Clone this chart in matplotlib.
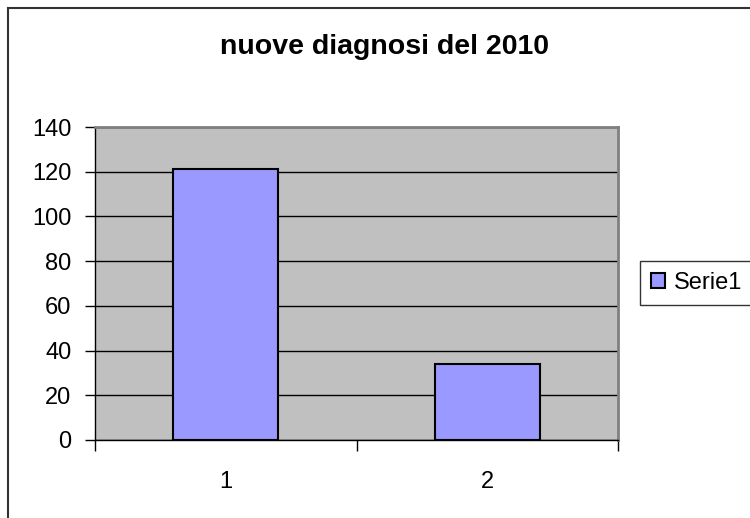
import numpy as np
import matplotlib.pyplot as plt
from matplotlib.lines import Line2D

plt.rcParams['font.family'] = ['Liberation Sans', 'DejaVu Sans']

# data
categories = ['1', '2']
values = [121, 34]
series_name = 'Serie1'
title = 'nuove diagnosi del 2010'

W, H = 750, 518
fig = plt.figure(figsize=(W / 100, H / 100), dpi=100)

# plot area in pixels: left 95, right 618, top 127, bottom 440
ax = fig.add_axes([95 / W, 1 - 440 / H, (618 - 95) / W, (440 - 127) / H])
ax.set_facecolor('#C0C0C0')

x = np.arange(1, len(values) + 1)
bars = ax.bar(x, values, width=0.4, color='#9999FF', edgecolor='black',
              linewidth=1.5, zorder=3, label=series_name)

ax.set_xlim(0.5, len(values) + 0.5)
ax.set_ylim(0, 140)
ax.set_yticks(np.arange(0, 141, 20))
ax.yaxis.grid(True, color='black', linewidth=1, zorder=1)
ax.set_axisbelow(True)

ax.set_xticks(x)
ax.set_xticklabels(categories)
ax.set_xticks(np.arange(0.5, len(values) + 1, 1), minor=True)
ax.tick_params(axis='x', which='major', length=0, pad=22, labelsize=17)
ax.tick_params(axis='x', which='minor', length=8, width=1, direction='out', color='black')
ax.tick_params(axis='y', length=7, width=1, direction='out', pad=10, labelsize=17)

for side in ['top', 'right']:
    ax.spines[side].set_color('#808080')
    ax.spines[side].set_linewidth(2)
for side in ['left', 'bottom']:
    ax.spines[side].set_color('black')
    ax.spines[side].set_linewidth(1)

fig.text(385 / W, 1 - 47 / H, title, ha='center', va='center',
         fontsize=20.5, fontweight='bold')

# outer chart border (right and bottom run off the image)
fig.add_artist(Line2D([8 / W, 8 / W], [0, 1 - 8 / H], color='#333333', linewidth=1.5,
                      transform=fig.transFigure))
fig.add_artist(Line2D([8 / W, 1], [1 - 8 / H, 1 - 8 / H], color='#333333', linewidth=1.5,
                      transform=fig.transFigure))

leg = fig.legend(handles=[bars], loc='center left', bbox_to_anchor=(640 / W, 1 - 283 / H),
                 fontsize=17, frameon=True, fancybox=False, edgecolor='black',
                 handlelength=0.6, handleheight=0.6, handletextpad=0.4,
                 borderpad=0.45, borderaxespad=0)
leg.get_frame().set_linewidth(1)

fig.savefig('out.png', dpi=100)
